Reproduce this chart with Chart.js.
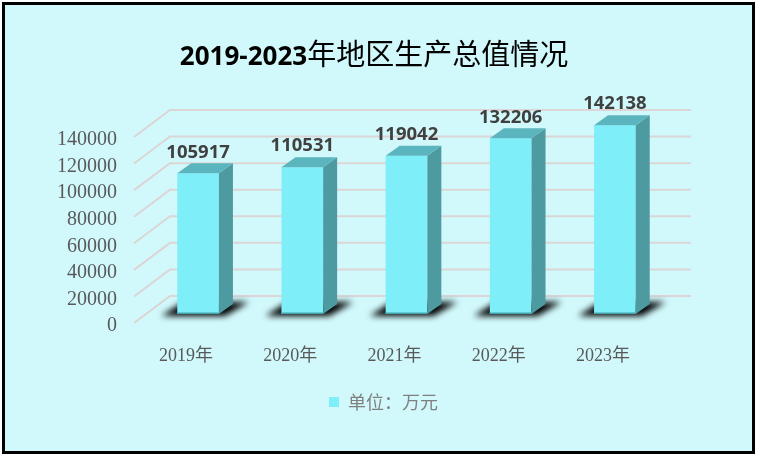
<!DOCTYPE html>
<html><head><meta charset="utf-8">
<script src="https://cdn.jsdelivr.net/npm/chart.js@4.4.1/dist/chart.umd.min.js"></script>
<style>html,body{margin:0;padding:0;background:#fff;}canvas{display:block;}</style>
</head><body>
<canvas id="c" width="757" height="457"></canvas>
<script>
const categories = ['2019年', '2020年', '2021年', '2022年', '2023年'];
const gdpValues = [105917, 110531, 119042, 132206, 142138];
const yTickValues = [0, 20000, 40000, 60000, 80000, 100000, 120000, 140000];
const titleYears = '2019-2023';
const titleRest = '年地区生产总值情况';
const seriesLabel = '单位：万元';

const FACE = '#7EEEF8', SIDE = '#4D9BA0', TOP = '#5BB5BE';
const BACK = {dx: 24, dy: -18}, FRONT = {dx: -12, dy: 9}, DEPTH = {dx: 14, dy: -10};

const threeD = {
  id: 'threeD',
  beforeDraw(chart) {
    const ctx = chart.ctx, a = chart.chartArea, y = chart.scales.y;
    ctx.save();
    ctx.fillStyle = '#fff'; ctx.fillRect(0, 0, chart.width, chart.height);
    ctx.fillStyle = '#D1F9FC'; ctx.fillRect(3.5, 3.5, 750, 449);
    ctx.lineWidth = 3; ctx.strokeStyle = '#000'; ctx.strokeRect(3.5, 3.5, 750, 449);
    ctx.strokeStyle = '#DCD5D5'; ctx.lineWidth = 2;
    yTickValues.forEach(v => {
      const py = y.getPixelForValue(v);
      ctx.beginPath();
      ctx.moveTo(a.left + FRONT.dx, py + FRONT.dy);
      ctx.lineTo(a.left + BACK.dx, py + BACK.dy);
      ctx.lineTo(a.right + BACK.dx, py + BACK.dy);
      ctx.stroke();
    });
    // title
    const f1 = 'bold 26px "Open Sans", "Noto Sans CJK SC"';
    const f2 = '29px "Noto Sans CJK SC"';
    ctx.font = f1; const w1 = ctx.measureText(titleYears).width;
    ctx.font = f2; const w2 = ctx.measureText(titleRest).width;
    let x0 = 374 - (w1 + w2) / 2;
    ctx.fillStyle = '#000'; ctx.textBaseline = 'alphabetic'; ctx.textAlign = 'left';
    ctx.font = f1; ctx.fillText(titleYears, x0, 65);
    ctx.font = f2; ctx.fillText(titleRest, x0 + w1, 65);
    ctx.restore();
  },
  beforeDatasetsDraw(chart) {
    const ctx = chart.ctx;
    ctx.save();
    ctx.filter = 'blur(3px)';
    ctx.fillStyle = '#000';
    chart.getDatasetMeta(0).data.forEach(bar => {
      const xL = bar.x - bar.width / 2, xR = bar.x + bar.width / 2, b = bar.base;
      ctx.beginPath();
      ctx.moveTo(xL - 16, b + 2);
      ctx.lineTo(xR + 6, b + 2);
      ctx.lineTo(xR + 30, b - 12);
      ctx.lineTo(xL + 6, b - 12);
      ctx.closePath();
      ctx.fill();
    });
    ctx.restore();
  },
  afterDatasetsDraw(chart) {
    const ctx = chart.ctx;
    ctx.save();
    const ds = chart.data.datasets[0];
    chart.getDatasetMeta(0).data.forEach((bar, i) => {
      const xL = bar.x - bar.width / 2, xR = bar.x + bar.width / 2, t = bar.y, b = bar.base;
      ctx.fillStyle = SIDE;
      ctx.beginPath();
      ctx.moveTo(xR, t); ctx.lineTo(xR + DEPTH.dx, t + DEPTH.dy);
      ctx.lineTo(xR + DEPTH.dx, b + DEPTH.dy); ctx.lineTo(xR, b); ctx.closePath(); ctx.fill();
      ctx.fillStyle = TOP;
      ctx.beginPath();
      ctx.moveTo(xL, t); ctx.lineTo(xR, t);
      ctx.lineTo(xR + DEPTH.dx, t + DEPTH.dy); ctx.lineTo(xL + DEPTH.dx, t + DEPTH.dy); ctx.closePath(); ctx.fill();
      ctx.fillStyle = '#45A3AA';
      ctx.fillRect(xL, b - 1.5, bar.width, 1.5);
      ctx.fillStyle = '#404040';
      ctx.font = 'bold 18.5px "Open Sans"';
      ctx.textAlign = 'center'; ctx.textBaseline = 'middle';
      ctx.fillText(String(ds.data[i]), bar.x, t + DEPTH.dy - 11);
    });
    ctx.restore();
  }
};

new Chart(document.getElementById('c'), {
  type: 'bar',
  data: {
    labels: categories,
    datasets: [{
      label: seriesLabel,
      data: gdpValues,
      backgroundColor: FACE,
      borderWidth: 0,
      barPercentage: 0.4,
      categoryPercentage: 1.0,
      clip: false
    }]
  },
  options: {
    responsive: false,
    animation: false,
    devicePixelRatio: 1,
    layout: {padding: {left: 40, right: 30, top: 128, bottom: 36}},
    plugins: {
      title: {display: false},
      tooltip: {enabled: false},
      legend: {
        display: true,
        position: 'bottom',
        labels: {
          boxWidth: 10, boxHeight: 10, padding: 10,
          color: '#7F7F7F',
          font: {family: '"Noto Sans CJK SC"', size: 18}
        }
      }
    },
    scales: {
      x: {
        grid: {display: false, drawTicks: false},
        border: {display: false},
        ticks: {
          color: '#595959',
          font: {family: '"Liberation Serif", "Noto Sans CJK SC"', size: 18},
          padding: 31,
          autoSkip: false,
          labelOffset: FRONT.dx
        },
        afterFit(s) { s.height = 69; }
      },
      y: {
        min: 0, max: 140000,
        grid: {display: false, drawTicks: false},
        border: {display: false},
        afterBuildTicks(s) { s.ticks = yTickValues.map(v => ({value: v})); },
        ticks: {
          color: '#595959',
          font: {family: '"Liberation Serif"', size: 20},
          padding: 29,
          autoSkip: false,
          labelOffset: 12,
          callback: v => String(v)
        },
        afterFit(s) { s.width = 106; }
      },
      y2: {
        position: 'right',
        display: true,
        grid: {display: false, drawTicks: false},
        border: {display: false},
        ticks: {display: false},
        afterFit(s) { s.width = 60; }
      }
    }
  },
  plugins: [threeD]
});
</script>
</body></html>
